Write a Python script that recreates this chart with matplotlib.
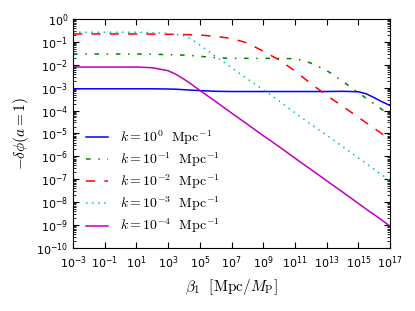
import numpy as np
import matplotlib
matplotlib.use('Agg')
import matplotlib.pyplot as plt
from matplotlib.ticker import LogLocator, NullLocator, NullFormatter

plt.rcParams['mathtext.fontset'] = 'cm'

# log10(beta_1) grid
log_beta = [-3, -2, -1, 0, 1, 2, 3, 3.5, 4, 4.5, 5, 6, 7, 8, 9, 10, 11, 11.5,
            12, 13, 14, 15, 15.5, 16, 16.5, 17]

# -log10(-delta phi) for each k
k1e0 = [3.05, 3.05, 3.05, 3.05, 3.05, 3.05, 3.06, 3.07, 3.09, 3.11, 3.13, 3.16, 3.17,
        3.17, 3.17, 3.17, 3.17, 3.17, 3.17, 3.17, 3.16, 3.18, 3.27, 3.44, 3.62, 3.78]
k1e1 = [1.53, 1.53, 1.53, 1.53, 1.53, 1.54, 1.56, 1.57, 1.58, 1.60, 1.63, 1.69, 1.72,
        1.72, 1.72, 1.72, 1.74, 1.81, 1.93, 2.25, 2.72, 3.22, 3.47, 3.71, 3.96, 4.17]
k1e2 = [0.655, 0.655, 0.655, 0.655, 0.655, 0.66, 0.67, 0.675, 0.68, 0.69, 0.70, 0.76, 0.85,
        1.05, 1.41, 1.79, 2.27, 2.55, 2.82, 3.34, 3.81, 4.30, 4.54, 4.78, 5.02, 5.26]
k1e3 = [0.58, 0.58, 0.58, 0.58, 0.58, 0.60, 0.63, 0.67, 0.74, 0.90, 1.14, 1.64, 2.13,
        2.62, 3.09, 3.58, 4.10, 4.35, 4.60, 5.08, 5.57, 6.07, 6.32, 6.57, 6.82, 7.07]
k1e4 = [2.10, 2.10, 2.10, 2.10, 2.10, 2.13, 2.26, 2.42, 2.63, 2.87, 3.12, 3.61, 4.11,
        4.60, 5.10, 5.58, 6.08, 6.33, 6.57, 7.07, 7.56, 8.06, 8.31, 8.55, 8.80, 9.05]

series = [(k1e0, 'b', (None, None), r'$k=10^{0}\ \ \mathrm{Mpc}^{-1}$'),
          (k1e1, 'g', (3, 5, 1, 5), r'$k=10^{-1}\ \ \mathrm{Mpc}^{-1}$'),
          (k1e2, 'r', (6, 6), r'$k=10^{-2}\ \ \mathrm{Mpc}^{-1}$'),
          (k1e3, 'c', (1, 3), r'$k=10^{-3}\ \ \mathrm{Mpc}^{-1}$'),
          (k1e4, 'm', (None, None), r'$k=10^{-4}\ \ \mathrm{Mpc}^{-1}$')]

fig = plt.figure(figsize=(4.15, 3.11), dpi=100)
ax = fig.add_axes([0.176, 0.203, 0.764, 0.736])

beta = 10.0 ** np.array(log_beta)
for vals, col, dash, lab in series:
    line, = ax.plot(beta, 10.0 ** (-np.array(vals)), color=col, lw=1.1, label=lab)
    if dash[0] is not None:
        line.set_dashes(dash)

ax.set_xscale('log')
ax.set_yscale('log')
ax.set_xlim(1e-3, 1e17)
ax.set_ylim(1e-10, 1e0)
ax.set_xticks(10.0 ** np.arange(-3, 18, 2))
ax.xaxis.set_minor_locator(NullLocator())
ax.set_yticks(10.0 ** np.arange(-10, 1))
ax.yaxis.set_minor_locator(LogLocator(base=10, subs=np.arange(2, 10), numticks=100))
ax.yaxis.set_minor_formatter(NullFormatter())

ax.tick_params(which='both', direction='in', top=True, right=True, labelsize=8)
ax.tick_params(which='major', length=4)
ax.tick_params(which='minor', length=2)
ax.tick_params(axis='x', pad=5)

ax.set_xlabel(r'$\beta_1\ \ [\mathrm{Mpc}/M_{\rm P}]$', fontsize=11)
ax.set_ylabel(r'$-\delta\phi(a=1)$', fontsize=11)

ax.legend(loc='lower left', frameon=False, fontsize=10, handlelength=1.6,
          handletextpad=0.9, borderaxespad=0.5, labelspacing=0.25)

fig.savefig('out.png', dpi=100)
